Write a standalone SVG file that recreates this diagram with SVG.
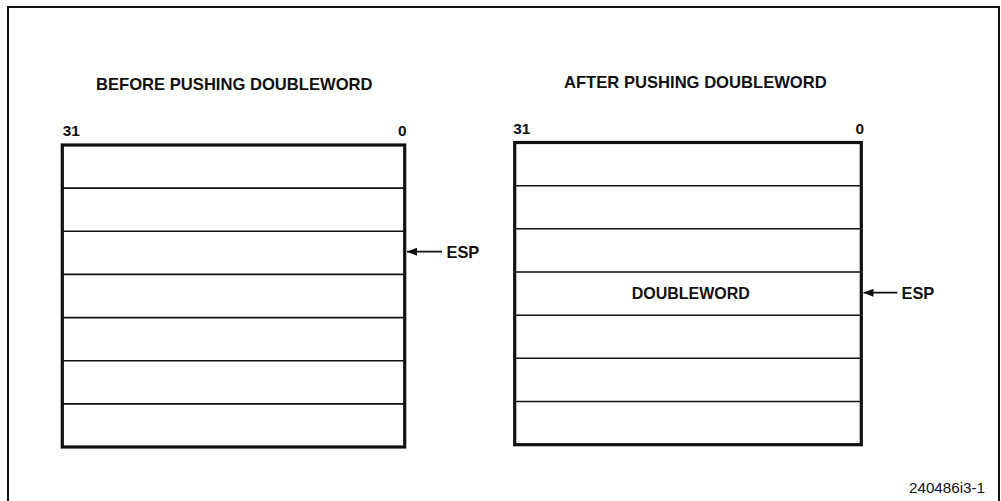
<svg xmlns="http://www.w3.org/2000/svg" width="1001" height="501" viewBox="0 0 1001 501">
<style>
.t{font-family:"Liberation Sans",Arial,sans-serif;font-weight:bold;font-size:16.4px;fill:#111}
.h{font-size:16.6px}
.b{font-size:15.4px}
.n{font-family:"Liberation Sans",Arial,sans-serif;font-size:15.2px;fill:#111}
.box{fill:none;stroke:#111;stroke-width:3.2}
.row{stroke:#111;stroke-width:1.6}
.conn{stroke:#111;stroke-width:1.8;fill:none}
</style>
<defs>
<marker id="ah" markerWidth="10" markerHeight="8" refX="10" refY="4" orient="auto" markerUnits="userSpaceOnUse">
<path d="M0,0 L10,4 L0,8 Z" fill="#111"/>
</marker>
</defs>
<rect width="1001" height="501" fill="#fff"/>
<path d="M8,501 V7 H999 V501" fill="none" stroke="#111" stroke-width="2"/>
<text class="t h" x="96" y="89.5">BEFORE PUSHING DOUBLEWORD</text>
<text class="t h" x="564" y="88">AFTER PUSHING DOUBLEWORD</text>
<g id="before-stack">
<text class="t b" x="62.7" y="135.7">31</text>
<text class="t b" x="406.5" y="135.5" text-anchor="end">0</text>
<rect class="box" x="62.3" y="145" width="342.4" height="302"/>
<line class="row" x1="62.3" y1="188.1" x2="404.7" y2="188.1"/>
<line class="row" x1="62.3" y1="231.3" x2="404.7" y2="231.3"/>
<line class="row" x1="62.3" y1="274.4" x2="404.7" y2="274.4"/>
<line class="row" x1="62.3" y1="317.6" x2="404.7" y2="317.6"/>
<line class="row" x1="62.3" y1="360.7" x2="404.7" y2="360.7"/>
<line class="row" x1="62.3" y1="403.9" x2="404.7" y2="403.9"/>
</g>
<g id="before-esp">
<text class="t" x="446.5" y="257.5">ESP</text>
</g>
<g id="after-stack">
<text class="t b" x="513.3" y="134">31</text>
<text class="t b" x="864" y="133.5" text-anchor="end">0</text>
<rect class="box" x="514.7" y="142.5" width="346.6" height="302.2"/>
<line class="row" x1="514.7" y1="185.7" x2="861.3" y2="185.7"/>
<line class="row" x1="514.7" y1="228.8" x2="861.3" y2="228.8"/>
<line class="row" x1="514.7" y1="272" x2="861.3" y2="272"/>
<line class="row" x1="514.7" y1="315.2" x2="861.3" y2="315.2"/>
<line class="row" x1="514.7" y1="358.3" x2="861.3" y2="358.3"/>
<line class="row" x1="514.7" y1="401.5" x2="861.3" y2="401.5"/>
<text class="t" x="631.7" y="298.5" style="font-size:16px">DOUBLEWORD</text>
</g>
<g id="after-esp">
<text class="t" x="901.5" y="298.5">ESP</text>
</g>
<g id="connectors">
<line class="conn" x1="442" y1="251.7" x2="407" y2="251.7" marker-end="url(#ah)"/>
<line class="conn" x1="897.3" y1="292.7" x2="863.5" y2="292.7" marker-end="url(#ah)"/>
</g>
<text class="n" x="985" y="493.3" text-anchor="end">240486i3-1</text>
</svg>
